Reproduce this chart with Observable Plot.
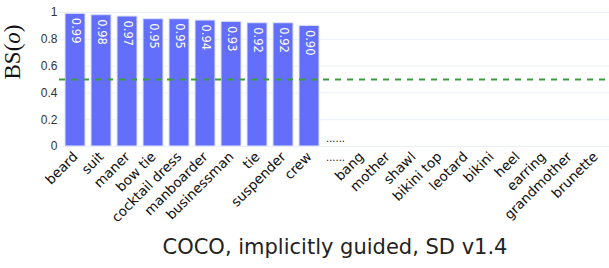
<!DOCTYPE html>
<html>
<head>
<meta charset="utf-8">
<script src="https://cdn.jsdelivr.net/npm/d3@7"></script>
<script src="https://cdn.jsdelivr.net/npm/@observablehq/plot@0.6"></script>
<style>
  body { margin: 0; background: #fff; }
  #title { width: 609px; box-sizing: border-box; padding-left: 61px; text-align: center;
           font: 21px/24px "DejaVu Sans", Verdana, sans-serif; color: #222; margin-top: 7px; }
</style>
</head>
<body>
<div id="chart"></div>
<div id="title">COCO, implicitly guided, SD v1.4</div>
<script>
const categories = ["beard","suit","maner","bow tie","cocktail dress","manboarder","businessman","tie","suspender","crew",
  "......","bang","mother","shawl","bikini top","leotard","bikini","heel","earring","grandmother","brunette"];
const values = [0.99,0.98,0.97,0.95,0.95,0.94,0.93,0.92,0.92,0.90,
  0,0,0,0,0,0,0,0,0,0,0];
const labels = ["0.99","0.98","0.97","0.95","0.95","0.94","0.93","0.92","0.92","0.90"];
const yTicks = [0,0.2,0.4,0.6,0.8,1];
const threshold = 0.5;
const gapCategory = "......";

const data = categories.map((c, i) => ({cat: c, v: values[i], label: labels[i] ?? null}));
const barData = data.filter(d => d.label !== null);

const chart = Plot.plot({
  width: 609,
  height: 228,
  marginTop: 12,
  marginLeft: 59,
  marginRight: 0,
  marginBottom: 82,
  style: {fontFamily: "'DejaVu Sans', Verdana, sans-serif", background: "#fff"},
  x: {domain: categories, range: [59, 611], padding: 0.22, label: null, axis: null},
  y: {domain: [0, 1], label: null, axis: null},
  marks: [
    Plot.ruleY(yTicks, {stroke: "#ebf0f8", strokeWidth: 1}),
    Plot.barY(barData, {x: "cat", y: "v", fill: "#636efa", stroke: "#dfe3fb", strokeWidth: 1}),
    Plot.text(barData, {x: "cat", y: "v", text: "label", rotate: 90, textAnchor: "start", dy: 4,
      fill: "white", fontSize: 11.5}),
    Plot.ruleY([threshold], {stroke: "#3f9b3f", strokeWidth: 2, strokeDasharray: "6,6"}),
    Plot.axisY({ticks: yTicks, tickSize: 0, tickPadding: 2, fontSize: 12,
      fontFamily: "'Liberation Sans', Arial, sans-serif", fill: "#333",
      tickFormat: d => d === 0 ? "0" : d === 1 ? "1" : d3.format(".1f")(d), label: null}),
    Plot.axisX({tickSize: 0, tickPadding: 8, tickRotate: -45, fontSize: 13.5, fill: "#111",
      tickFormat: d => d === gapCategory ? "" : d, label: null}),
    Plot.text([gapCategory], {x: d => d, y: 0, text: d => d, dy: -8, fontSize: 10, fill: "#111"}),
    Plot.text([gapCategory], {x: d => d, y: 0, text: d => d, dy: 11, fontSize: 10, fill: "#111"}),
    Plot.text(["BS(o)"], {frameAnchor: "left", dx: -47, rotate: -90, text: d => d,
      fontSize: 23, fontFamily: "'Liberation Serif', 'Times New Roman', serif", fill: "#111"})
  ]
});
document.getElementById("chart").appendChild(chart);
// italicize the "o" in the y label
const yl = Array.from(chart.querySelectorAll("text")).find(t => t.textContent === "BS(o)");
if (yl) {
  yl.textContent = "";
  const ns = "http://www.w3.org/2000/svg";
  ["BS(", "o", ")"].forEach((s, i) => {
    const ts = document.createElementNS(ns, "tspan");
    ts.textContent = s;
    if (i === 1) ts.setAttribute("font-style", "italic");
    yl.appendChild(ts);
  });
}
</script>
</body>
</html>
